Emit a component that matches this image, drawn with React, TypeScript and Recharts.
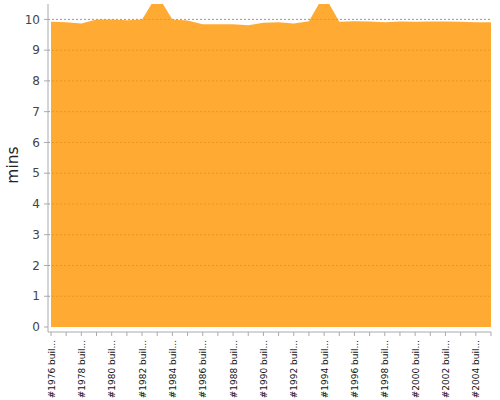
import React from 'react';
import { AreaChart, Area, XAxis, YAxis, CartesianGrid } from 'recharts';

const builds = [
  '#1976 buil...', '#1977 buil...', '#1978 buil...', '#1979 buil...', '#1980 buil...',
  '#1981 buil...', '#1982 buil...', '#1983 buil...', '#1984 buil...', '#1985 buil...',
  '#1986 buil...', '#1987 buil...', '#1988 buil...', '#1989 buil...', '#1990 buil...',
  '#1991 buil...', '#1992 buil...', '#1993 buil...', '#1994 buil...', '#1995 buil...',
  '#1996 buil...', '#1997 buil...', '#1998 buil...', '#1999 buil...', '#2000 buil...',
  '#2001 buil...', '#2002 buil...', '#2003 buil...', '#2004 buil...', '#2005 buil...',
];

const mins = [
  9.92, 9.91, 9.87, 10.0, 10.0, 9.97, 10.0, 10.8, 10.0, 9.96,
  9.84, 9.84, 9.84, 9.81, 9.89, 9.91, 9.87, 9.94, 10.8, 9.92,
  9.94, 9.93, 9.91, 9.93, 9.92, 9.93, 9.93, 9.92, 9.91, 9.91,
];

const yTicks = [0, 1, 2, 3, 4, 5, 6, 7, 8, 9, 10];

const data = builds.map((b, i) => ({ build: b, mins: mins[i] }));

const FONT = '"DejaVu Sans", sans-serif';

const XTick = (props: any) => {
  const { x, y, payload, index } = props;
  const i = payload && typeof payload.index === 'number' ? payload.index : index;
  if (i % 2 !== 0) return null;
  const tx = x + 3.5;
  const ty = y + 2;
  return (
    <text
      x={tx}
      y={ty}
      transform={`rotate(-90, ${tx}, ${ty})`}
      textAnchor="end"
      fontSize={9}
      fontFamily={FONT}
      fill="#111"
    >
      {payload.value}
    </text>
  );
};

const YLabel = (props: any) => {
  const vb = props.viewBox || { x: 0, y: 0, width: 0, height: 0 };
  const cx = vb.x + 13;
  const cy = vb.y + vb.height / 2 - 3;
  return (
    <text
      x={cx}
      y={cy}
      transform={`rotate(-90, ${cx}, ${cy})`}
      textAnchor="middle"
      dominantBaseline="central"
      fontSize={15.5}
      fontFamily={FONT}
      fill="#222"
    >
      mins
    </text>
  );
};

const gridRows = (args: any) => {
  const ax = args && args.yAxis;
  const s = ax && ax.scale;
  if (!s) return [];
  return yTicks
    .filter((t) => t > 0)
    .map((t) => (typeof s === 'function' ? s(t) : s.map ? s.map(t) : 0));
};

export default function App() {
  return (
    <div style={{ position: 'absolute', left: 0, top: 0, width: 500, height: 400, background: '#fff' }}>
      <AreaChart
        width={500}
        height={400}
        data={data}
        margin={{ top: 4, right: 9, bottom: 0, left: 0 }}
      >
        <CartesianGrid
          vertical={false}
          stroke="#999"
          strokeDasharray="2 2"
          horizontalCoordinatesGenerator={gridRows}
        />
        <XAxis
          dataKey="build"
          interval={0}
          height={68}
          padding={{ left: 3, right: 0 }}
          axisLine={{ stroke: '#aaa' }}
          tickLine={{ stroke: '#aaa' }}
          tickSize={4}
          tick={<XTick />}
        />
        <YAxis
          width={48}
          domain={[0, 10.5]}
          ticks={yTicks}
          allowDataOverflow
          padding={{ top: 0, bottom: 5 }}
          axisLine={{ stroke: '#aaa' }}
          tickLine={{ stroke: '#aaa' }}
          tickSize={4}
          tickMargin={4}
          tick={{ fontSize: 12, fontFamily: FONT, fill: '#444' }}
          label={{ content: <YLabel /> }}
        />
        <Area
          type="linear"
          dataKey="mins"
          stroke="none"
          fill="#ff9600"
          fillOpacity={0.8}
          isAnimationActive={false}
          dot={false}
          activeDot={false}
        />
      </AreaChart>
    </div>
  );
}
